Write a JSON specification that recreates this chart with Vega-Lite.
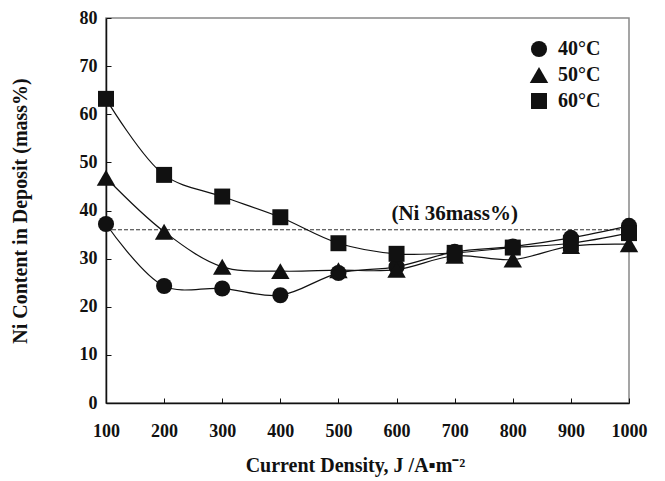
{
  "$schema": "https://vega.github.io/schema/vega-lite/v6.json",
  "width": 523,
  "height": 385,
  "autosize": {"type": "none"},
  "padding": {"left": 106, "top": 18, "right": 36, "bottom": 78},
  "background": "white",
  "config": {
    "font": "Liberation Serif",
    "view": {"stroke": "#888888", "strokeWidth": 1.5},
    "axis": {
      "labelFont": "Liberation Serif",
      "labelFontWeight": "bold",
      "labelFontSize": 18,
      "labelColor": "#111111",
      "labelFlush": false,
      "titleFont": "Liberation Serif",
      "titleFontWeight": "bold",
      "titleFontSize": 20,
      "titleColor": "#111111",
      "domainColor": "#111111",
      "domainWidth": 1.5,
      "tickColor": "#111111",
      "tickWidth": 1,
      "grid": false
    }
  },
  "datasets": {
    "main": [
      {"J": 100, "Ni": 37.2, "T": "40°C"},
      {"J": 200, "Ni": 24.3, "T": "40°C"},
      {"J": 300, "Ni": 23.8, "T": "40°C"},
      {"J": 400, "Ni": 22.4, "T": "40°C"},
      {"J": 500, "Ni": 27.0, "T": "40°C"},
      {"J": 600, "Ni": 28.3, "T": "40°C"},
      {"J": 700, "Ni": 31.4, "T": "40°C"},
      {"J": 800, "Ni": 32.5, "T": "40°C"},
      {"J": 900, "Ni": 34.3, "T": "40°C"},
      {"J": 1000, "Ni": 36.8, "T": "40°C"},
      {"J": 100, "Ni": 46.8, "T": "50°C"},
      {"J": 200, "Ni": 35.6, "T": "50°C"},
      {"J": 300, "Ni": 28.3, "T": "50°C"},
      {"J": 400, "Ni": 27.4, "T": "50°C"},
      {"J": 500, "Ni": 27.6, "T": "50°C"},
      {"J": 600, "Ni": 27.7, "T": "50°C"},
      {"J": 700, "Ni": 30.6, "T": "50°C"},
      {"J": 800, "Ni": 29.8, "T": "50°C"},
      {"J": 900, "Ni": 32.6, "T": "50°C"},
      {"J": 1000, "Ni": 33.0, "T": "50°C"},
      {"J": 100, "Ni": 63.2, "T": "60°C"},
      {"J": 200, "Ni": 47.4, "T": "60°C"},
      {"J": 300, "Ni": 42.9, "T": "60°C"},
      {"J": 400, "Ni": 38.6, "T": "60°C"},
      {"J": 500, "Ni": 33.2, "T": "60°C"},
      {"J": 600, "Ni": 31.0, "T": "60°C"},
      {"J": 700, "Ni": 31.2, "T": "60°C"},
      {"J": 800, "Ni": 32.3, "T": "60°C"},
      {"J": 900, "Ni": 33.2, "T": "60°C"},
      {"J": 1000, "Ni": 35.3, "T": "60°C"}
    ],
    "ref": [{"J1": 100, "J2": 1000, "Ni": 36}],
    "note": [{"J": 700, "Ni": 39.3, "label": "(Ni 36mass%)"}]
  },
  "layer": [
    {
      "data": {"name": "ref"},
      "mark": {"type": "rule", "strokeDash": [4, 2], "strokeWidth": 1, "color": "#333333"},
      "encoding": {
        "x": {"field": "J1", "type": "quantitative"},
        "x2": {"field": "J2"},
        "y": {"field": "Ni", "type": "quantitative"}
      }
    },
    {
      "data": {"name": "note"},
      "mark": {"type": "text", "font": "Liberation Serif", "fontWeight": "bold", "fontSize": 21, "color": "#111111", "align": "center", "baseline": "middle"},
      "encoding": {
        "x": {"field": "J", "type": "quantitative"},
        "y": {"field": "Ni", "type": "quantitative"},
        "text": {"field": "label"}
      }
    },
    {
      "data": {"name": "main"},
      "mark": {"type": "line", "interpolate": "catmull-rom", "color": "#111111", "strokeWidth": 1.2},
      "encoding": {
        "x": {"field": "J", "type": "quantitative"},
        "y": {"field": "Ni", "type": "quantitative"},
        "detail": {"field": "T"}
      }
    },
    {
      "data": {"name": "main"},
      "mark": {"type": "point", "filled": true, "color": "#111111", "opacity": 1},
      "encoding": {
        "x": {
          "field": "J", "type": "quantitative",
          "scale": {"domain": [100, 1000], "nice": false, "zero": false},
          "axis": {"values": [100, 200, 300, 400, 500, 600, 700, 800, 900, 1000], "format": "d", "tickSize": -5, "labelPadding": 24, "title": "Current Density, J /A▪m⁻²", "titlePadding": 15, "titleX": 249}
        },
        "y": {
          "field": "Ni", "type": "quantitative",
          "scale": {"domain": [0, 80], "nice": false},
          "axis": {"values": [0, 10, 20, 30, 40, 50, 60, 70, 80], "tickSize": -5, "labelPadding": 14, "title": "Ni Content in Deposit (mass%)", "titlePadding": 49}
        },
        "size": {
          "field": "T", "type": "nominal",
          "scale": {"type": "ordinal", "domain": ["40°C", "50°C", "60°C"], "range": [260, 340, 255]}
        },
        "shape": {
          "field": "T", "type": "nominal",
          "scale": {"domain": ["40°C", "50°C", "60°C"], "range": ["circle", "triangle-up", "square"]},
          "legend": {
            "title": null,
            "orient": "none",
            "legendX": 423,
            "legendY": 21,
            "symbolFillColor": "#111111",
            "symbolStrokeColor": "#111111",
            "symbolStrokeWidth": 0,
            "labelFont": "Liberation Serif",
            "labelFontWeight": "bold",
            "labelFontSize": 20,
            "labelColor": "#111111",
            "labelOffset": 9,
            "rowPadding": 6
          }
        }
      }
    }
  ]
}
